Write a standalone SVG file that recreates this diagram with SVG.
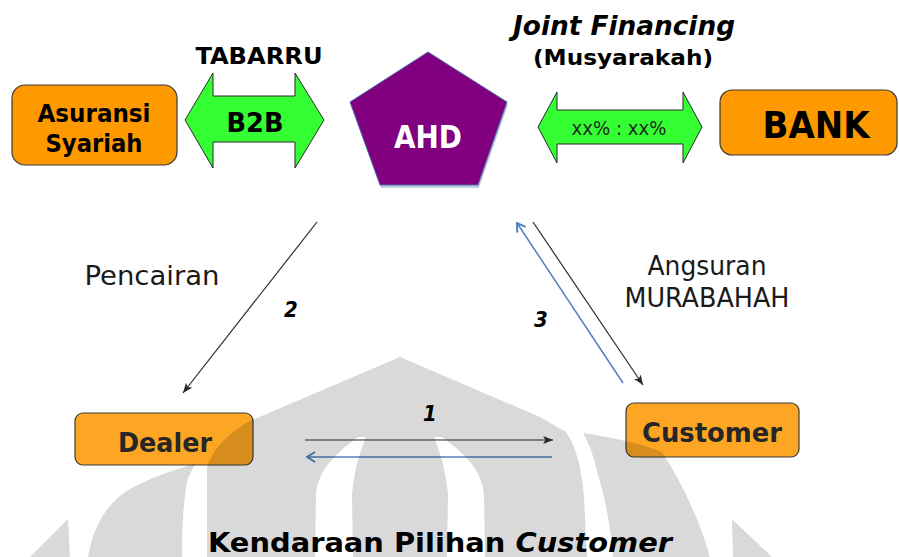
<svg xmlns="http://www.w3.org/2000/svg" width="899" height="557" viewBox="0 0 899 557">
<style>
.box{fill:#ff9900;stroke:#3a3a3a;stroke-width:1.2}
.box2{fill:#fca624;stroke:#3a3a3a;stroke-width:1.2}
.garrow{fill:#33ff33;stroke:#2a2a2a;stroke-width:1}
.b{font-family:"DejaVu Sans Condensed","DejaVu Sans",sans-serif;font-weight:bold;text-anchor:middle}
.r{font-family:"DejaVu Sans Condensed","DejaVu Sans",sans-serif;text-anchor:middle}
.bi{font-family:"DejaVu Sans Condensed","DejaVu Sans",sans-serif;font-weight:bold;font-style:italic;text-anchor:middle}
.blk{stroke:#2b2b2b;stroke-width:1.2;fill:none}
.blu{stroke:#4f81bd;stroke-width:1.5;fill:none}
</style>
<defs>
<marker id="ha" viewBox="0 0 10 8" refX="10" refY="4" markerWidth="10" markerHeight="8" markerUnits="userSpaceOnUse" orient="auto">
<path d="M0,0 L10,4 L0,8 L2.5,4 Z" fill="#2b2b2b"/>
</marker>
<marker id="hb" viewBox="0 0 10 12" refX="9" refY="6" markerWidth="10" markerHeight="12" markerUnits="userSpaceOnUse" orient="auto">
<path d="M1,1 L9,6 L1,11" fill="none" stroke="#4f81bd" stroke-width="2"/>
</marker>
</defs>
<rect width="899" height="557" fill="#ffffff"/>

<g id="asuransi">
<rect class="box" x="12" y="85" width="165" height="80" rx="13"/>
<text class="b" x="94" y="122" font-size="25" textLength="113" lengthAdjust="spacingAndGlyphs">Asuransi</text>
<text class="b" x="94" y="152" font-size="25" textLength="97" lengthAdjust="spacingAndGlyphs">Syariah</text>
</g>

<g id="b2b">
<polygon class="garrow" points="185,120 213,73 213,96 295,96 295,73 324,120 295,168 295,142 213,142 213,168"/>
<text class="b" x="255" y="132" font-size="26" textLength="57" lengthAdjust="spacingAndGlyphs">B2B</text>
<text class="b" x="259" y="64" font-size="23" textLength="127" lengthAdjust="spacingAndGlyphs">TABARRU</text>
</g>

<g id="ahd">
<polygon points="429,55 508,105 479,188 381,188 351,105" fill="#8a9bb8" opacity="0.5"/>
<polygon points="428,52 507,102 478,185 380,185 350,102" fill="#800080" stroke="#4a6ea8" stroke-width="1"/>
<text class="b" x="428" y="148" font-size="32" fill="#ffffff" textLength="68" lengthAdjust="spacingAndGlyphs">AHD</text>
</g>

<g id="joint">
<text class="bi" x="624" y="35" font-size="27" textLength="222" lengthAdjust="spacingAndGlyphs">Joint Financing</text>
<text class="b" x="623" y="65" font-size="21" textLength="180" lengthAdjust="spacingAndGlyphs">(Musyarakah)</text>
<polygon class="garrow" points="538,127 557,92 557,110 683,110 683,92 702,127 683,163 683,144 557,144 557,163"/>
<text class="r" x="619" y="135" font-size="20" fill="#1e2a1e" textLength="95" lengthAdjust="spacingAndGlyphs">xx% : xx%</text>
</g>

<g id="bank">
<rect class="box" x="720" y="90" width="177" height="65" rx="12"/>
<text class="b" x="816" y="138" font-size="38" textLength="107" lengthAdjust="spacingAndGlyphs">BANK</text>
</g>

<g id="dealer">
<rect class="box2" x="75" y="413" width="178" height="52" rx="8"/>
<text class="b" x="165" y="452" font-size="26" fill="#262626" textLength="94" lengthAdjust="spacingAndGlyphs">Dealer</text>
</g>

<g id="customer">
<rect class="box2" x="626" y="403" width="173" height="54" rx="8"/>
<text class="b" x="712" y="442" font-size="26" fill="#262626" textLength="140" lengthAdjust="spacingAndGlyphs">Customer</text>
</g>

<g id="connectors">
<line class="blk" x1="317" y1="222" x2="183" y2="393" marker-end="url(#ha)"/>
<line class="blk" x1="533" y1="222" x2="643" y2="385" marker-end="url(#ha)"/>
<line class="blu" x1="623" y1="383" x2="517" y2="223" marker-end="url(#hb)"/>
<line class="blk" x1="305" y1="440" x2="553" y2="440" marker-end="url(#ha)"/>
<line class="blu" x1="552" y1="457" x2="307" y2="457" marker-end="url(#hb)"/>
</g>

<g id="labels">
<text class="r" x="152" y="285" font-size="27" fill="#1a1a1a" textLength="135" lengthAdjust="spacingAndGlyphs">Pencairan</text>
<text class="bi" x="291" y="317" font-size="22">2</text>
<text class="r" x="707" y="275" font-size="27" fill="#1a1a1a" textLength="119" lengthAdjust="spacingAndGlyphs">Angsuran</text>
<text class="r" x="707" y="307" font-size="27" fill="#1a1a1a" textLength="165" lengthAdjust="spacingAndGlyphs">MURABAHAH</text>
<text class="bi" x="541" y="327" font-size="22">3</text>
<text class="bi" x="430" y="421" font-size="22">1</text>
<text class="b" x="440" y="552" font-size="26" textLength="464" lengthAdjust="spacingAndGlyphs">Kendaraan Pilihan <tspan font-style="italic">Customer</tspan></text>
</g>

<g id="watermark" fill="#000000" fill-opacity="0.15">
<path fill-rule="evenodd" d="M400,357 L250,421 C228,433 212,450 207,468 L207,557 L587,557 L584,497 C582,470 576,446 566,432 L540,417 Z M358,437 C338,452 318,468 316,495 L315,557 L353,557 L352,495 C354,470 360,452 366,437 Z M442,437 C462,452 482,468 484,495 L485,557 L447,557 L448,495 C446,470 440,452 434,437 Z"/>
<path d="M88,557 C93,528 105,505 128,490 C150,478 172,470 195,464 L188,478 C184,495 182,520 182,557 Z"/>
<path d="M583,433 C610,437 640,443 662,452 C680,480 698,515 710,557 L613,557 C610,520 604,495 598,475 C594,458 590,445 583,433 Z"/>
<path d="M30,557 L68,519 L70,557 Z"/>
<path d="M732,519 L772,557 L733,557 Z"/>
</g>
</svg>
